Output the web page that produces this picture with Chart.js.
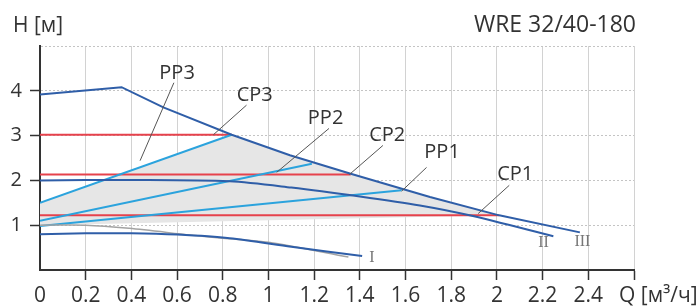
<!DOCTYPE html>
<html>
<head>
<meta charset="utf-8">
<script src="https://cdn.jsdelivr.net/npm/chart.js@4.4.0/dist/chart.umd.min.js"></script>
<style>
  html, body { margin: 0; padding: 0; background: #fff; }
  #wrap { width: 698px; height: 308px; }
</style>
</head>
<body>
<div id="wrap"><canvas id="myChart" width="698" height="308"></canvas></div>
<script>
// axes: Q [m3/h] and H [m]
var qTicks = [0, 0.2, 0.4, 0.6, 0.8, 1, 1.2, 1.4, 1.6, 1.8, 2, 2.2, 2.4, 2.6];
var hTicks = [0, 1, 2, 3, 4, 5];

// pump curves for speed I / II / III
var speed3Q = [0, 0.357, 0.54, 0.839, 1.094, 1.36, 1.707, 2.01, 2.363];
var speed3H = [3.92, 4.08, 3.63, 3.02, 2.56, 2.15, 1.63, 1.22, 0.84];
var speed2Q = [0, 0.4, 0.83, 1.1, 1.4, 1.663, 1.88, 2.247];
var speed2H = [2.0, 2.01, 1.98, 1.84, 1.64, 1.44, 1.22, 0.755];
var speed1Q = [0, 0.2, 0.4, 0.6, 0.83, 1.1, 1.41];
var speed1H = [0.8, 0.82, 0.82, 0.79, 0.71, 0.52, 0.31];
var minQ = [0, 0.2, 0.39, 0.66, 0.8, 1.0, 1.35];
var minH = [1.0, 1.0, 0.93, 0.78, 0.71, 0.62, 0.29];

// proportional pressure PP1, PP2, PP3
var ppQ = [[0, 1.583], [0, 1.19], [0, 0.839]];
var ppH = [[0.98, 1.78], [1.1, 2.37], [1.5, 3.02]];
// constant pressure CP1, CP2, CP3
var cpQ = [[0, 2.01], [0, 1.36], [0, 0.839]];
var cpH = [1.22, 2.13, 3.02];

// shaded control range
var areaQ = [0, 0.839, 1.094, 1.36, 1.707, 2.01, 0, 0];
var areaH = [1.5, 3.02, 2.56, 2.15, 1.63, 1.22, 1.0, 1.5];

// callout labels and their leader lines
var calloutText = ['PP3', 'CP3', 'PP2', 'CP2', 'PP1', 'CP1'];
var calloutQ = [0.60, 0.94, 1.25, 1.52, 1.76, 2.08];
var calloutH = [4.38, 3.89, 3.38, 3.0, 2.62, 2.13];
var leaderQ = [[0.586, 0.438], [0.904, 0.759], [1.265, 1.036], [1.501, 1.354], [1.692, 1.583], [2.054, 1.918]];
var leaderH = [[4.18, 2.44], [3.68, 3.02], [3.16, 2.18], [2.78, 2.13], [2.29, 1.76], [1.89, 1.26]];

var speedNames = ['I', 'II', 'III'];
var speedNameQ = [1.453, 2.204, 2.374];
var speedNameH = [0.28, 0.61, 0.633];

var darkBlue = '#2f5ea8';
var lightBlue = '#2ba3dd';
var red = '#e6424c';

function pts(qs, hs) {
    return qs.map(function (q, i) { return { x: q, y: hs[i] }; });
}

var datasets = [];
datasets.push({ data: pts(areaQ, areaH), borderWidth: 0, backgroundColor: '#e6e6e6', fill: 'shape', order: 20 });
for (var i = 0; i < 3; i++) {
    datasets.push({ data: pts(cpQ[i], [cpH[i], cpH[i]]), borderColor: red, borderWidth: 2, order: 5 });
    datasets.push({ data: pts(ppQ[i], ppH[i]), borderColor: lightBlue, borderWidth: 2, order: 4 });
}
datasets.push({ data: pts(minQ, minH), borderColor: '#a3a3a3', borderWidth: 1.5, tension: 0.3, order: 3 });
datasets.push({ data: pts(speed1Q, speed1H), borderColor: darkBlue, borderWidth: 2, tension: 0.3, order: 2 });
datasets.push({ data: pts(speed2Q, speed2H), borderColor: darkBlue, borderWidth: 2, tension: 0.3, order: 2 });
datasets.push({ data: pts(speed3Q, speed3H), borderColor: darkBlue, borderWidth: 2, order: 2 });
leaderQ.forEach(function (q, i) {
    datasets.push({ data: pts(q, leaderH[i]), borderColor: '#555', borderWidth: 1, order: 1 });
});

var textPlugin = {
    id: 'texts',
    afterDraw: function (chart) {
        var ctx = chart.ctx, xs = chart.scales.x, ys = chart.scales.y;
        ctx.save();
        ctx.fillStyle = '#333';
        ctx.textBaseline = 'middle';
        ctx.textAlign = 'center';
        ctx.font = '20px "Open Sans"';
        calloutText.forEach(function (t, i) {
            ctx.fillText(t, xs.getPixelForValue(calloutQ[i]), ys.getPixelForValue(calloutH[i]));
        });
        ctx.fillStyle = '#777';
        ctx.font = '16px "Liberation Serif"';
        speedNames.forEach(function (t, i) {
            ctx.fillText(t, xs.getPixelForValue(speedNameQ[i]), ys.getPixelForValue(speedNameH[i]));
        });
        ctx.fillStyle = '#333';
        ctx.textBaseline = 'alphabetic';
        ctx.font = '21px "Open Sans"';
        ctx.textAlign = 'left';
        ctx.fillText('H [м]', 13, 32);
        ctx.fillText('Q [м³/ч]', 619, 302);
        ctx.textAlign = 'right';
        ctx.font = '23px "Open Sans"';
        ctx.fillText('WRE 32/40-180', 636, 32);
        ctx.restore();
    }
};

Chart.defaults.font.family = '"Open Sans", sans-serif';
Chart.defaults.color = '#333';

var ctx = document.getElementById('myChart').getContext('2d');
var myChart = new Chart(ctx, {
    type: 'line',
    data: { datasets: datasets },
    options: {
        responsive: false,
        animation: false,
        devicePixelRatio: 1,
        layout: { padding: { left: 0, right: 64, top: 46, bottom: 0 } },
        elements: { point: { radius: 0 }, line: { fill: false } },
        plugins: { legend: { display: false }, tooltip: { enabled: false } },
        scales: {
            x: {
                type: 'linear',
                min: 0,
                max: 2.6,
                afterBuildTicks: function (s) { s.ticks = qTicks.map(function (v) { return { value: v }; }); },
                afterFit: function (s) { s.height = 38; },
                ticks: {
                    padding: 3,
                    font: { size: 21 },
                    color: '#333',
                    callback: function (v) { return v >= 2.6 ? '' : String(Math.round(v * 10) / 10); }
                },
                grid: {
                    color: '#d2d2d2',
                    tickLength: 10,
                    tickWidth: 1.5,
                    tickColor: function (c) { return c.tick && c.tick.value === 0 ? 'rgba(0,0,0,0)' : '#333'; }
                },
                border: { color: '#333', width: 2 }
            },
            y: {
                type: 'linear',
                min: 0,
                max: 5,
                afterBuildTicks: function (s) { s.ticks = hTicks.map(function (v) { return { value: v }; }); },
                afterFit: function (s) { s.width = 40; },
                ticks: {
                    padding: 8,
                    font: { size: 20 },
                    color: '#333',
                    callback: function (v) { return v === 0 || v === 5 ? '' : String(v); }
                },
                grid: {
                    color: '#c4c4c4',
                    tickLength: 10,
                    tickWidth: 1.5,
                    tickColor: function (c) { return c.tick && (c.tick.value === 0 || c.tick.value === 5) ? 'rgba(0,0,0,0)' : '#333'; }
                },
                border: { color: '#333', width: 2, dash: [2, 2] }
            }
        }
    },
    plugins: [textPlugin]
});
</script>
</body>
</html>
